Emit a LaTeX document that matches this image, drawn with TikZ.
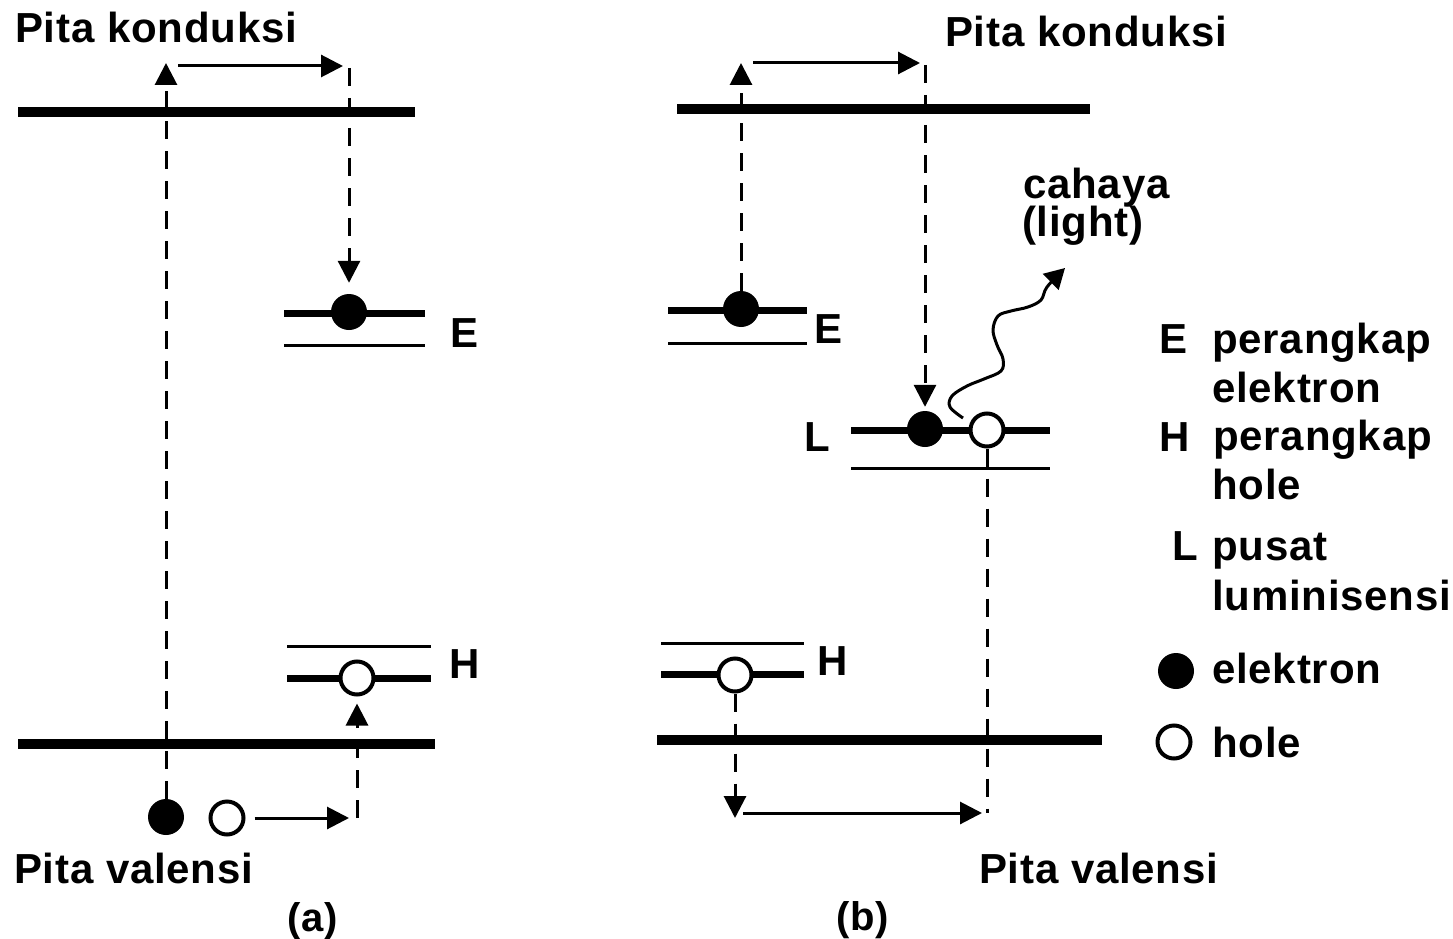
\documentclass[tikz,border=0pt]{standalone}
\usepackage{fontspec}
\newfontfamily\labfont{Liberation Sans}[LetterSpace=1.9]
\usetikzlibrary{arrows.meta}

\tikzset{
  band/.style={line width=10pt},
  lvthick/.style={line width=7pt},
  lvthin/.style={line width=3pt},
  jump/.style={line width=3pt, dash pattern=on 18pt off 12pt,
    -{Triangle[length=22pt,width=22pt]}},
  trail/.style={line width=3pt, dash pattern=on 18pt off 12pt},
  moveto/.style={line width=3pt, -{Triangle[length=22pt,width=22pt]}},
  wave/.style={line width=3pt, -{Triangle[length=20pt,width=22pt]}},
  elec/.style={circle, fill=black, minimum size=36pt, inner sep=0pt},
  hol/.style={circle, draw=black, fill=white, line width=4pt, minimum size=33pt, inner sep=0pt},
  lbl/.style={font=\labfont\bfseries\fontsize{42}{49}\selectfont, inner sep=0pt, anchor=base west},
  tag/.style={font=\labfont\bfseries\fontsize{40}{46}\selectfont, inner sep=0pt, anchor=base},
}

\begin{document}
\begin{tikzpicture}[x=1pt, y=-1pt]
\fill[white] (0,0) rectangle (1453,939);
\useasboundingbox (0,0) rectangle (1453,939);

% ---------------- panel (a) ----------------
\node[lbl] (pk1) at (15,43) {Pita konduksi};
\node[lbl] (pv1) at (14,883) {Pita valensi};
\node[tag] (capa) at (313,931) {(a)};

\draw[band] (18,112) -- (415,112);
\draw[lvthick] (284,313) -- (425,313);
\draw[lvthin]  (284,345) -- (425,345);
\draw[lvthin]  (287,646) -- (431,646);
\draw[lvthick] (287,678) -- (431,678);
\draw[band] (18,744) -- (435,744);

\node[lbl] (Ea) at (450,347) {E};
\node[lbl] (Ha) at (449,678) {H};

\node[elec] (ev1) at (166,817) {};
\node[hol]  (hv1) at (227,818) {};
\node[elec] (eE1) at (349,312) {};
\node[hol]  (hH1) at (357,678) {};

\coordinate (ta1) at (166,63);
\coordinate (ca1) at (178,66);
\coordinate (cb1) at (343,66);
\coordinate (da1) at (349,68);
\coordinate (sb1) at (349,818);
\coordinate (ua1) at (357,818);

\draw[jump] (ev1.north) -- (ta1);
\draw[moveto] (ca1) -- (cb1);
\draw[jump, shorten >=11pt] (da1) -- (eE1.north);
\draw[moveto, shorten <=9pt] (hv1.east) -- (sb1);
\draw[jump, shorten >=7pt] (ua1) -- (hH1.south);

% ---------------- panel (b) ----------------
\node[lbl] (pk2) at (945,47) {Pita konduksi};
\node[lbl] (pv2) at (979,883) {Pita valensi};
\node[tag] (capb) at (863,930) {(b)};

\draw[band] (677,109) -- (1090,109);
\draw[lvthick] (668,310) -- (807,310);
\draw[lvthin]  (668,343) -- (807,343);
\draw[lvthick] (851,430) -- (1050,430);
\draw[lvthin]  (851,468) -- (1050,468);
\draw[lvthin]  (661,643) -- (804,643);
\draw[lvthick] (661,674) -- (804,674);
\draw[band] (657,740) -- (1102,740);

\node[lbl] (Eb) at (814,343) {E};
\node[lbl] (Lb) at (804,451) {L};
\node[lbl] (Hb) at (817,675) {H};
\node[lbl] (cah) at (1023,198) {cahaya};
\node[lbl] (lig) at (1022,236) {(light)};

\node[elec] (eE2) at (741,309) {};
\node[elec] (eL)  at (925,429) {};
\node[hol]  (hL)  at (987,430) {};
\node[hol]  (hH2) at (735,675) {};

\coordinate (ta2) at (741,63);
\coordinate (ca2) at (753,63);
\coordinate (cb2) at (920,63);
\coordinate (da2) at (925,65);
\coordinate (bh2) at (987,813);
\coordinate (db2) at (735,818);
\coordinate (sa2) at (743,813);
\coordinate (sb2) at (982,813);
\coordinate (wv0) at (963,418);
\coordinate (wv1) at (1065,268);

\draw[jump] (eE2.north) -- (ta2);
\draw[moveto] (ca2) -- (cb2);
\draw[jump, shorten >=4pt] (da2) -- (eL.north);
\draw[trail] (hL.south) -- (bh2);
\draw[jump] (hH2.south) -- (db2);
\draw[moveto] (sa2) -- (sb2);
\draw[wave] plot[smooth, tension=0.6] coordinates {(wv0) (950,407) (952,396) (967,386) (984,379) (1001,371) (1003,359) (997,345) (993,330) (998,316) (1011,311) (1028,307) (1041,300) (1047,287) (wv1)};

% ---------------- legend ----------------
\node[lbl] (kE) at (1159,353) {E};
\node[lbl] (kE1) at (1212,353) {perangkap};
\node[lbl] (kE2) at (1212,402) {elektron};
\node[lbl] (kH) at (1159,451) {H};
\node[lbl] (kH1) at (1213,450) {perangkap};
\node[lbl] (kH2) at (1212,499) {hole};
\node[lbl] (kL) at (1172,560) {L};
\node[lbl] (kL1) at (1212,560) {pusat};
\node[lbl] (kL2) at (1212,610) {luminisensi};
\node[elec] (ke) at (1176,671) {};
\node[lbl] (ke1) at (1212,683) {elektron};
\node[hol] (kh) at (1174,742) {};
\node[lbl] (kh1) at (1212,757) {hole};
\end{tikzpicture}
\end{document}
